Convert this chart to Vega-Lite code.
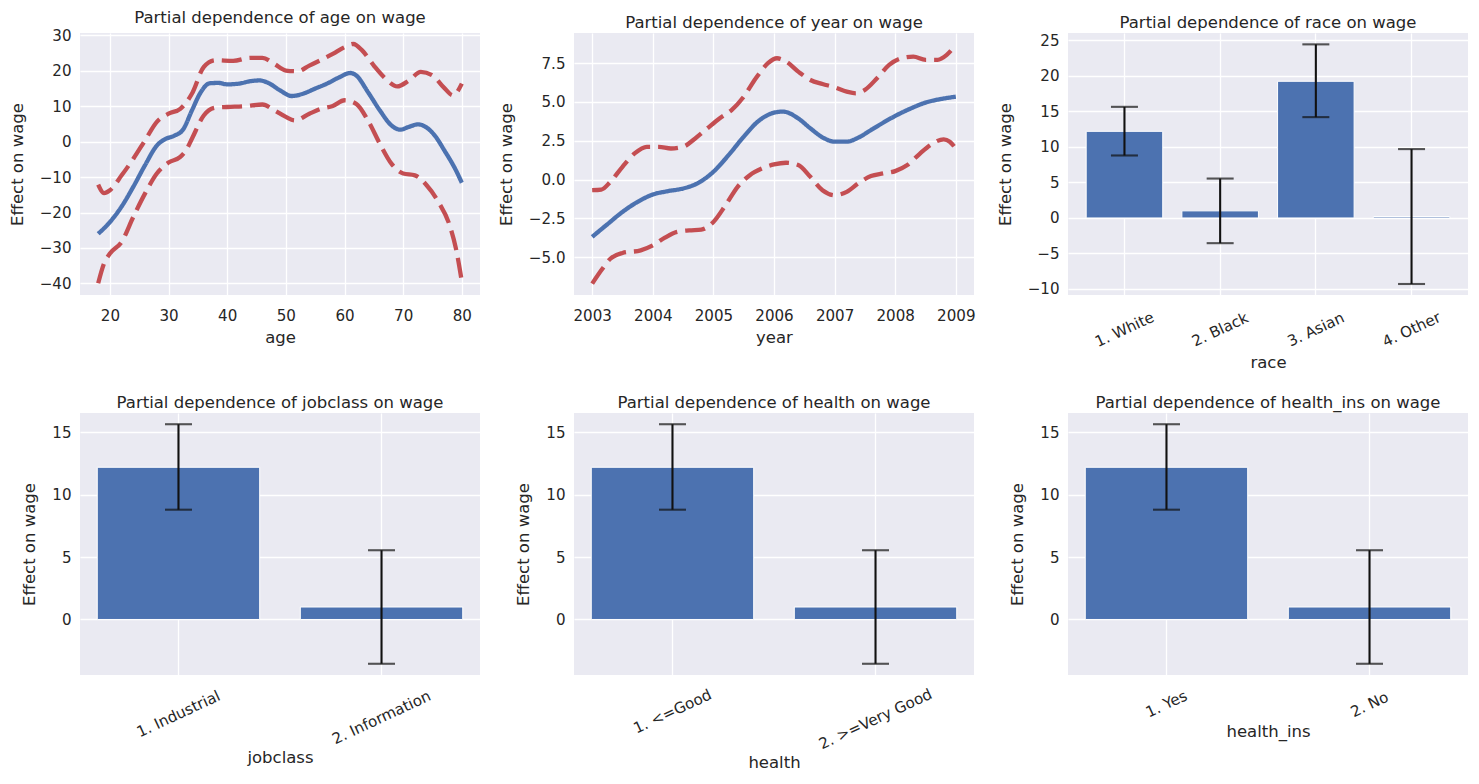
{
  "$schema": "https://vega.github.io/schema/vega-lite/v6.json",
  "background": "white",
  "padding": {"left": 9, "top": 9, "right": 8, "bottom": 8},
  "columns": 3,
  "spacing": {"row": 118, "column": 94},
  "bounds": "flush",
  "datasets": {
    "age_pd": [
      {"age": 18, "series": "fit", "effect": -26.0},
      {"age": 20, "series": "fit", "effect": -22.7},
      {"age": 22, "series": "fit", "effect": -18.3},
      {"age": 24, "series": "fit", "effect": -12.7},
      {"age": 26, "series": "fit", "effect": -6.6},
      {"age": 28, "series": "fit", "effect": -1.1},
      {"age": 29.5, "series": "fit", "effect": 0.8},
      {"age": 31, "series": "fit", "effect": 1.7},
      {"age": 32.5, "series": "fit", "effect": 3.5},
      {"age": 34, "series": "fit", "effect": 8.9},
      {"age": 35.5, "series": "fit", "effect": 14.0},
      {"age": 37, "series": "fit", "effect": 16.5},
      {"age": 38.5, "series": "fit", "effect": 16.6},
      {"age": 40, "series": "fit", "effect": 16.2},
      {"age": 42, "series": "fit", "effect": 16.4},
      {"age": 44, "series": "fit", "effect": 17.1},
      {"age": 45.5, "series": "fit", "effect": 17.3},
      {"age": 47, "series": "fit", "effect": 16.6},
      {"age": 49, "series": "fit", "effect": 14.5},
      {"age": 51, "series": "fit", "effect": 12.9},
      {"age": 53, "series": "fit", "effect": 13.6},
      {"age": 55, "series": "fit", "effect": 15.0},
      {"age": 57, "series": "fit", "effect": 16.4},
      {"age": 59, "series": "fit", "effect": 18.1},
      {"age": 61, "series": "fit", "effect": 19.4},
      {"age": 62, "series": "fit", "effect": 18.7},
      {"age": 64, "series": "fit", "effect": 14.0},
      {"age": 66, "series": "fit", "effect": 8.9},
      {"age": 68, "series": "fit", "effect": 4.6},
      {"age": 69.5, "series": "fit", "effect": 3.4},
      {"age": 71, "series": "fit", "effect": 4.2},
      {"age": 72.5, "series": "fit", "effect": 4.9},
      {"age": 74, "series": "fit", "effect": 4.0},
      {"age": 75.5, "series": "fit", "effect": 1.5},
      {"age": 77, "series": "fit", "effect": -2.4},
      {"age": 79, "series": "fit", "effect": -8.1},
      {"age": 80, "series": "fit", "effect": -11.6},
      {"age": 18, "series": "upper", "effect": -12.1},
      {"age": 19, "series": "upper", "effect": -14.5},
      {"age": 20, "series": "upper", "effect": -13.7},
      {"age": 22, "series": "upper", "effect": -9.5},
      {"age": 24, "series": "upper", "effect": -4.8},
      {"age": 26, "series": "upper", "effect": 0.4},
      {"age": 28, "series": "upper", "effect": 5.6},
      {"age": 30, "series": "upper", "effect": 7.9},
      {"age": 32, "series": "upper", "effect": 9.3},
      {"age": 34, "series": "upper", "effect": 13.6},
      {"age": 36, "series": "upper", "effect": 21.1},
      {"age": 38, "series": "upper", "effect": 23.0},
      {"age": 41, "series": "upper", "effect": 22.8},
      {"age": 44, "series": "upper", "effect": 23.7},
      {"age": 46, "series": "upper", "effect": 23.7},
      {"age": 48, "series": "upper", "effect": 22.0},
      {"age": 50, "series": "upper", "effect": 20.1},
      {"age": 52, "series": "upper", "effect": 19.9},
      {"age": 54, "series": "upper", "effect": 21.5},
      {"age": 56, "series": "upper", "effect": 23.1},
      {"age": 58, "series": "upper", "effect": 24.8},
      {"age": 60, "series": "upper", "effect": 26.7},
      {"age": 61.5, "series": "upper", "effect": 27.6},
      {"age": 63, "series": "upper", "effect": 25.8},
      {"age": 65, "series": "upper", "effect": 21.5},
      {"age": 67, "series": "upper", "effect": 17.8},
      {"age": 69, "series": "upper", "effect": 15.6},
      {"age": 71, "series": "upper", "effect": 17.3},
      {"age": 73, "series": "upper", "effect": 19.7},
      {"age": 75, "series": "upper", "effect": 18.7},
      {"age": 77, "series": "upper", "effect": 15.2},
      {"age": 78.5, "series": "upper", "effect": 13.1},
      {"age": 80, "series": "upper", "effect": 16.4},
      {"age": 18, "series": "lower", "effect": -40.0},
      {"age": 19, "series": "lower", "effect": -34.4},
      {"age": 20, "series": "lower", "effect": -31.6},
      {"age": 22, "series": "lower", "effect": -28.3},
      {"age": 24, "series": "lower", "effect": -21.2},
      {"age": 26, "series": "lower", "effect": -14.6},
      {"age": 28, "series": "lower", "effect": -9.0},
      {"age": 30, "series": "lower", "effect": -5.9},
      {"age": 32, "series": "lower", "effect": -4.3},
      {"age": 33, "series": "lower", "effect": -2.4},
      {"age": 34, "series": "lower", "effect": 0.9},
      {"age": 36, "series": "lower", "effect": 7.4},
      {"age": 38, "series": "lower", "effect": 9.6},
      {"age": 40, "series": "lower", "effect": 9.8},
      {"age": 43, "series": "lower", "effect": 10.0},
      {"age": 46, "series": "lower", "effect": 10.5},
      {"age": 48, "series": "lower", "effect": 8.9},
      {"age": 50, "series": "lower", "effect": 7.0},
      {"age": 51.5, "series": "lower", "effect": 6.0},
      {"age": 54, "series": "lower", "effect": 7.9},
      {"age": 56, "series": "lower", "effect": 9.3},
      {"age": 58, "series": "lower", "effect": 10.1},
      {"age": 60, "series": "lower", "effect": 11.7},
      {"age": 62, "series": "lower", "effect": 10.7},
      {"age": 64, "series": "lower", "effect": 6.0},
      {"age": 66, "series": "lower", "effect": -0.5},
      {"age": 68, "series": "lower", "effect": -6.2},
      {"age": 70, "series": "lower", "effect": -9.0},
      {"age": 72, "series": "lower", "effect": -9.5},
      {"age": 74, "series": "lower", "effect": -12.3},
      {"age": 76, "series": "lower", "effect": -17.0},
      {"age": 78, "series": "lower", "effect": -24.0},
      {"age": 79, "series": "lower", "effect": -30.2},
      {"age": 80, "series": "lower", "effect": -39.5}
    ],
    "year_pd": [
      {"year": 2003, "series": "fit", "effect": -3.7},
      {"year": 2003.25, "series": "fit", "effect": -2.89},
      {"year": 2003.5, "series": "fit", "effect": -2.09},
      {"year": 2003.75, "series": "fit", "effect": -1.44},
      {"year": 2004, "series": "fit", "effect": -0.97},
      {"year": 2004.25, "series": "fit", "effect": -0.75},
      {"year": 2004.5, "series": "fit", "effect": -0.58},
      {"year": 2004.75, "series": "fit", "effect": -0.22},
      {"year": 2005, "series": "fit", "effect": 0.5},
      {"year": 2005.25, "series": "fit", "effect": 1.57},
      {"year": 2005.5, "series": "fit", "effect": 2.76},
      {"year": 2005.75, "series": "fit", "effect": 3.79},
      {"year": 2006, "series": "fit", "effect": 4.31},
      {"year": 2006.15, "series": "fit", "effect": 4.38},
      {"year": 2006.4, "series": "fit", "effect": 3.94},
      {"year": 2006.6, "series": "fit", "effect": 3.3},
      {"year": 2006.8, "series": "fit", "effect": 2.72},
      {"year": 2007, "series": "fit", "effect": 2.44},
      {"year": 2007.2, "series": "fit", "effect": 2.44},
      {"year": 2007.4, "series": "fit", "effect": 2.72},
      {"year": 2007.6, "series": "fit", "effect": 3.19},
      {"year": 2007.8, "series": "fit", "effect": 3.66},
      {"year": 2008, "series": "fit", "effect": 4.1},
      {"year": 2008.25, "series": "fit", "effect": 4.57},
      {"year": 2008.5, "series": "fit", "effect": 4.96},
      {"year": 2008.75, "series": "fit", "effect": 5.19},
      {"year": 2009, "series": "fit", "effect": 5.34},
      {"year": 2003, "series": "upper", "effect": -0.69},
      {"year": 2003.15, "series": "upper", "effect": -0.65},
      {"year": 2003.3, "series": "upper", "effect": -0.15},
      {"year": 2003.5, "series": "upper", "effect": 0.82},
      {"year": 2003.7, "series": "upper", "effect": 1.68},
      {"year": 2003.9, "series": "upper", "effect": 2.11},
      {"year": 2004.1, "series": "upper", "effect": 2.11},
      {"year": 2004.3, "series": "upper", "effect": 2.0},
      {"year": 2004.5, "series": "upper", "effect": 2.11},
      {"year": 2004.7, "series": "upper", "effect": 2.65},
      {"year": 2004.9, "series": "upper", "effect": 3.3},
      {"year": 2005.1, "series": "upper", "effect": 3.94},
      {"year": 2005.3, "series": "upper", "effect": 4.48},
      {"year": 2005.5, "series": "upper", "effect": 5.34},
      {"year": 2005.7, "series": "upper", "effect": 6.53},
      {"year": 2005.9, "series": "upper", "effect": 7.5},
      {"year": 2006.05, "series": "upper", "effect": 7.82},
      {"year": 2006.2, "series": "upper", "effect": 7.61},
      {"year": 2006.4, "series": "upper", "effect": 6.96},
      {"year": 2006.6, "series": "upper", "effect": 6.42},
      {"year": 2006.8, "series": "upper", "effect": 6.16},
      {"year": 2007, "series": "upper", "effect": 5.95},
      {"year": 2007.2, "series": "upper", "effect": 5.67},
      {"year": 2007.35, "series": "upper", "effect": 5.56},
      {"year": 2007.5, "series": "upper", "effect": 5.78},
      {"year": 2007.7, "series": "upper", "effect": 6.53},
      {"year": 2007.9, "series": "upper", "effect": 7.39},
      {"year": 2008.1, "series": "upper", "effect": 7.82},
      {"year": 2008.3, "series": "upper", "effect": 7.93},
      {"year": 2008.5, "series": "upper", "effect": 7.72},
      {"year": 2008.7, "series": "upper", "effect": 7.72},
      {"year": 2008.85, "series": "upper", "effect": 8.04},
      {"year": 2009, "series": "upper", "effect": 8.69},
      {"year": 2003, "series": "lower", "effect": -6.72},
      {"year": 2003.15, "series": "lower", "effect": -5.86},
      {"year": 2003.3, "series": "lower", "effect": -5.11},
      {"year": 2003.5, "series": "lower", "effect": -4.74},
      {"year": 2003.8, "series": "lower", "effect": -4.57},
      {"year": 2004, "series": "lower", "effect": -4.25},
      {"year": 2004.2, "series": "lower", "effect": -3.75},
      {"year": 2004.4, "series": "lower", "effect": -3.38},
      {"year": 2004.6, "series": "lower", "effect": -3.28},
      {"year": 2004.8, "series": "lower", "effect": -3.23},
      {"year": 2005, "series": "lower", "effect": -2.74},
      {"year": 2005.2, "series": "lower", "effect": -1.66},
      {"year": 2005.4, "series": "lower", "effect": -0.47},
      {"year": 2005.6, "series": "lower", "effect": 0.28},
      {"year": 2005.8, "series": "lower", "effect": 0.71},
      {"year": 2006, "series": "lower", "effect": 0.97},
      {"year": 2006.2, "series": "lower", "effect": 1.08},
      {"year": 2006.4, "series": "lower", "effect": 0.93},
      {"year": 2006.6, "series": "lower", "effect": 0.17},
      {"year": 2006.8, "series": "lower", "effect": -0.69},
      {"year": 2007, "series": "lower", "effect": -1.01},
      {"year": 2007.2, "series": "lower", "effect": -0.8},
      {"year": 2007.4, "series": "lower", "effect": -0.22},
      {"year": 2007.6, "series": "lower", "effect": 0.22},
      {"year": 2007.8, "series": "lower", "effect": 0.39},
      {"year": 2008, "series": "lower", "effect": 0.54},
      {"year": 2008.2, "series": "lower", "effect": 0.93},
      {"year": 2008.4, "series": "lower", "effect": 1.64},
      {"year": 2008.6, "series": "lower", "effect": 2.28},
      {"year": 2008.8, "series": "lower", "effect": 2.59},
      {"year": 2008.9, "series": "lower", "effect": 2.44},
      {"year": 2009, "series": "lower", "effect": 2.0}
    ],
    "race_pd": [
      {"race": "1. White", "effect": 12.2, "lo": 8.8, "hi": 15.65},
      {"race": "2. Black", "effect": 1.0, "lo": -3.55, "hi": 5.55},
      {"race": "3. Asian", "effect": 19.25, "lo": 14.2, "hi": 24.45},
      {"race": "4. Other", "effect": 0.2, "lo": -9.3, "hi": 9.7}
    ],
    "jobclass_pd": [
      {"jobclass": "1. Industrial", "effect": 12.2, "lo": 8.8, "hi": 15.65},
      {"jobclass": "2. Information", "effect": 1.0, "lo": -3.55, "hi": 5.55}
    ],
    "health_pd": [
      {"health": "1. <=Good", "effect": 12.2, "lo": 8.8, "hi": 15.65},
      {"health": "2. >=Very Good", "effect": 1.0, "lo": -3.55, "hi": 5.55}
    ],
    "health_ins_pd": [
      {"health_ins": "1. Yes", "effect": 12.2, "lo": 8.8, "hi": 15.65},
      {"health_ins": "2. No", "effect": 1.0, "lo": -3.55, "hi": 5.55}
    ]
  },
  "concat": [
    {
      "title": "Partial dependence of age on wage",
      "width": 400, "height": 262,
      "data": {"name": "age_pd"},
      "mark": {"type": "line", "interpolate": "monotone", "strokeWidth": 4.3, "strokeCap": "butt"},
      "encoding": {
        "x": {"field": "age", "type": "quantitative",
              "scale": {"domain": [14.9, 83.1], "nice": false, "zero": false},
              "axis": {"values": [20, 30, 40, 50, 60, 70, 80], "title": "age", "titlePadding": 6}},
        "y": {"field": "effect", "type": "quantitative",
              "scale": {"domain": [-43.3, 30.7], "nice": false, "zero": false},
              "axis": {"values": [-40, -30, -20, -10, 0, 10, 20, 30], "title": "Effect on wage"}},
        "color": {"field": "series", "type": "nominal", "legend": null,
                  "scale": {"domain": ["fit", "upper", "lower"], "range": ["#4C72B0", "#C44E52", "#C44E52"]}},
        "strokeDash": {"field": "series", "type": "nominal", "legend": null,
                       "scale": {"domain": ["fit", "upper", "lower"], "range": [[1, 0], [20, 8], [20, 8]]}},
        "detail": {"field": "series"}
      }
    },
    {
      "title": "Partial dependence of year on wage",
      "width": 400, "height": 262,
      "data": {"name": "year_pd"},
      "mark": {"type": "line", "interpolate": "monotone", "strokeWidth": 4.3, "strokeCap": "butt"},
      "encoding": {
        "x": {"field": "year", "type": "quantitative",
              "scale": {"domain": [2002.7, 2009.3], "nice": false, "zero": false},
              "axis": {"values": [2003, 2004, 2005, 2006, 2007, 2008, 2009], "format": "d", "title": "year", "titlePadding": 6}},
        "y": {"field": "effect", "type": "quantitative",
              "scale": {"domain": [-7.45, 9.45], "nice": false, "zero": false},
              "axis": {"values": [-5, -2.5, 0, 2.5, 5, 7.5], "format": ".1f", "title": "Effect on wage"}},
        "color": {"field": "series", "type": "nominal", "legend": null,
                  "scale": {"domain": ["fit", "upper", "lower"], "range": ["#4C72B0", "#C44E52", "#C44E52"]}},
        "strokeDash": {"field": "series", "type": "nominal", "legend": null,
                       "scale": {"domain": ["fit", "upper", "lower"], "range": [[1, 0], [20, 8], [20, 8]]}},
        "detail": {"field": "series"}
      }
    },
    {
      "title": "Partial dependence of race on wage",
      "width": 400, "height": 262,
      "data": {"name": "race_pd"},
      "encoding": {
        "x": {"field": "race", "type": "nominal", "sort": null,
              "scale": {"type": "band", "paddingInner": 0.2, "paddingOuter": 0.19},
              "axis": {"title": "race", "grid": true, "bandPosition": 0.5, "labelAngle": -25,
                       "labelAlign": "center", "labelBaseline": "middle", "labelPadding": 34, "titlePadding": 5}}
      },
      "layer": [
        {"mark": {"type": "bar", "color": "#4C72B0", "stroke": "white", "strokeWidth": 1},
         "encoding": {
           "y": {"field": "effect", "type": "quantitative",
                 "scale": {"domain": [-10.85, 26.05], "nice": false, "zero": false},
                 "axis": {"values": [-10, -5, 0, 5, 10, 15, 20, 25], "title": "Effect on wage"}},
           "y2": {"datum": 0}}},
        {"mark": {"type": "rule", "color": "#111111", "strokeWidth": 2.1},
         "encoding": {"y": {"field": "lo", "type": "quantitative",
                            "axis": {"values": [-10, -5, 0, 5, 10, 15, 20, 25], "title": "Effect on wage"}},
                      "y2": {"field": "hi"}}},
        {"mark": {"type": "tick", "color": "#111111", "size": 27, "thickness": 2.1},
         "encoding": {"y": {"field": "lo", "type": "quantitative",
                            "axis": {"values": [-10, -5, 0, 5, 10, 15, 20, 25], "title": "Effect on wage"}}}},
        {"mark": {"type": "tick", "color": "#111111", "size": 27, "thickness": 2.1},
         "encoding": {"y": {"field": "hi", "type": "quantitative",
                            "axis": {"values": [-10, -5, 0, 5, 10, 15, 20, 25], "title": "Effect on wage"}}}}
      ]
    },
    {
      "title": "Partial dependence of jobclass on wage",
      "width": 400, "height": 262,
      "data": {"name": "jobclass_pd"},
      "encoding": {
        "x": {"field": "jobclass", "type": "nominal", "sort": null,
              "scale": {"type": "band", "paddingInner": 0.2, "paddingOuter": 0.085},
              "axis": {"title": "jobclass", "grid": true, "bandPosition": 0.5, "labelAngle": -25,
                       "labelAlign": "center", "labelBaseline": "middle", "titlePadding": 3,
                       "labelPadding": {"condition": {"test": "datum.label == '1. Industrial'", "value": 38.5}, "value": 42}}}
      },
      "layer": [
        {"mark": {"type": "bar", "color": "#4C72B0", "stroke": "white", "strokeWidth": 1},
         "encoding": {
           "y": {"field": "effect", "type": "quantitative",
                 "scale": {"domain": [-4.45, 16.55], "nice": false, "zero": false},
                 "axis": {"values": [0, 5, 10, 15], "title": "Effect on wage"}},
           "y2": {"datum": 0}}},
        {"mark": {"type": "rule", "color": "#111111", "strokeWidth": 2.1},
         "encoding": {"y": {"field": "lo", "type": "quantitative", "axis": {"values": [0, 5, 10, 15], "title": "Effect on wage"}},
                      "y2": {"field": "hi"}}},
        {"mark": {"type": "tick", "color": "#111111", "size": 27, "thickness": 2.1},
         "encoding": {"y": {"field": "lo", "type": "quantitative", "axis": {"values": [0, 5, 10, 15], "title": "Effect on wage"}}}},
        {"mark": {"type": "tick", "color": "#111111", "size": 27, "thickness": 2.1},
         "encoding": {"y": {"field": "hi", "type": "quantitative", "axis": {"values": [0, 5, 10, 15], "title": "Effect on wage"}}}}
      ]
    },
    {
      "title": "Partial dependence of health on wage",
      "width": 400, "height": 262,
      "data": {"name": "health_pd"},
      "encoding": {
        "x": {"field": "health", "type": "nominal", "sort": null,
              "scale": {"type": "band", "paddingInner": 0.2, "paddingOuter": 0.085},
              "axis": {"title": "health", "grid": true, "bandPosition": 0.5, "labelAngle": -25,
                       "labelAlign": "center", "labelBaseline": "middle", "titlePadding": 3,
                       "labelPadding": {"condition": {"test": "datum.label == '1. <=Good'", "value": 36}, "value": 43.5}}}
      },
      "layer": [
        {"mark": {"type": "bar", "color": "#4C72B0", "stroke": "white", "strokeWidth": 1},
         "encoding": {
           "y": {"field": "effect", "type": "quantitative",
                 "scale": {"domain": [-4.45, 16.55], "nice": false, "zero": false},
                 "axis": {"values": [0, 5, 10, 15], "title": "Effect on wage"}},
           "y2": {"datum": 0}}},
        {"mark": {"type": "rule", "color": "#111111", "strokeWidth": 2.1},
         "encoding": {"y": {"field": "lo", "type": "quantitative", "axis": {"values": [0, 5, 10, 15], "title": "Effect on wage"}},
                      "y2": {"field": "hi"}}},
        {"mark": {"type": "tick", "color": "#111111", "size": 27, "thickness": 2.1},
         "encoding": {"y": {"field": "lo", "type": "quantitative", "axis": {"values": [0, 5, 10, 15], "title": "Effect on wage"}}}},
        {"mark": {"type": "tick", "color": "#111111", "size": 27, "thickness": 2.1},
         "encoding": {"y": {"field": "hi", "type": "quantitative", "axis": {"values": [0, 5, 10, 15], "title": "Effect on wage"}}}}
      ]
    },
    {
      "title": "Partial dependence of health_ins on wage",
      "width": 400, "height": 262,
      "data": {"name": "health_ins_pd"},
      "encoding": {
        "x": {"field": "health_ins", "type": "nominal", "sort": null,
              "scale": {"type": "band", "paddingInner": 0.2, "paddingOuter": 0.085},
              "axis": {"title": "health_ins", "grid": true, "bandPosition": 0.5, "labelAngle": -25,
                       "labelAlign": "center", "labelBaseline": "middle", "titlePadding": 3,
                       "labelPadding": {"condition": {"test": "datum.label == '1. Yes'", "value": 28.5}, "value": 29}}}
      },
      "layer": [
        {"mark": {"type": "bar", "color": "#4C72B0", "stroke": "white", "strokeWidth": 1},
         "encoding": {
           "y": {"field": "effect", "type": "quantitative",
                 "scale": {"domain": [-4.45, 16.55], "nice": false, "zero": false},
                 "axis": {"values": [0, 5, 10, 15], "title": "Effect on wage"}},
           "y2": {"datum": 0}}},
        {"mark": {"type": "rule", "color": "#111111", "strokeWidth": 2.1},
         "encoding": {"y": {"field": "lo", "type": "quantitative", "axis": {"values": [0, 5, 10, 15], "title": "Effect on wage"}},
                      "y2": {"field": "hi"}}},
        {"mark": {"type": "tick", "color": "#111111", "size": 27, "thickness": 2.1},
         "encoding": {"y": {"field": "lo", "type": "quantitative", "axis": {"values": [0, 5, 10, 15], "title": "Effect on wage"}}}},
        {"mark": {"type": "tick", "color": "#111111", "size": 27, "thickness": 2.1},
         "encoding": {"y": {"field": "hi", "type": "quantitative", "axis": {"values": [0, 5, 10, 15], "title": "Effect on wage"}}}}
      ]
    }
  ],
  "config": {
    "font": "DejaVu Sans",
    "view": {"fill": "#EAEAF2", "stroke": null},
    "axis": {
      "domain": false, "ticks": false, "tickSize": 0, "grid": true,
      "gridColor": "#FFFFFF", "gridWidth": 1.3,
      "labelFont": "DejaVu Sans", "labelFontSize": 15.1, "labelColor": "#262626",
      "labelFlush": false, "labelOverlap": false,
      "titleFont": "DejaVu Sans", "titleFontSize": 16.5, "titleFontWeight": "normal", "titleColor": "#262626"
    },
    "axisY": {"labelPadding": 9, "titlePadding": 14},
    "axisX": {"labelPadding": 13, "titlePadding": 4},
    "title": {"font": "DejaVu Sans", "fontSize": 16.5, "fontWeight": "normal", "color": "#262626", "offset": 2}
  }
}
